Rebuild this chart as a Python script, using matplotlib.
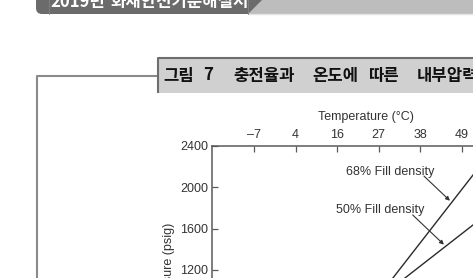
import matplotlib
matplotlib.use("Agg")
import matplotlib.pyplot as plt
from matplotlib.patches import Rectangle, Polygon, FancyBboxPatch

# data
temp_ticks_f = [20, 40, 60, 80, 100, 120]
temp_labels_c = ["\u20137", "4", "16", "27", "38", "49"]
pressure_ticks = [1200, 1600, 2000, 2400]

fill68_temp_f = [80, 130]
fill68_psi = [946, 2241]
fill50_temp_f = [80, 130]
fill50_psi = [924, 1709]

header_year = "2019년"
header_book = "화재안전기준해설서"
title_words = ["그림", "7", "충전율과", "온도에", "따른", "내부압력"]
title_x = [163, 203, 233, 312, 368, 417]

kr = ["Noto Sans CJK KR", "DejaVu Sans"]
latin = ["Liberation Sans", "DejaVu Sans"]
fs = 9

W, H = 473, 278
fig = plt.figure(figsize=(W / 100, H / 100), dpi=100)

# page decorations in pixel coords
bg = fig.add_axes([0, 0, 1, 1])
bg.set_xlim(0, W)
bg.set_ylim(H, 0)
bg.axis("off")

# header bar
bg.add_patch(Rectangle((248, -1), 230, 14.5, color="#bdbdbd", lw=0))
bg.plot([248, W], [14.3, 14.3], color="#e4e4e4", lw=1)
bg.add_patch(FancyBboxPatch((36, -12), 212, 26, boxstyle="round,pad=0,rounding_size=6",
                            color="#6b6b6b", lw=0))
bg.add_patch(Polygon([(232, -1), (263, -1), (248, 14), (232, 14)], color="#6b6b6b", lw=0))
bg.plot([49, 49], [0, 14], color="#858585", lw=0.6)
bg.plot([248, 248], [0, 14], color="#858585", lw=0.6)
bg.text(50, 6.5, header_year, color="white", fontsize=12, fontweight="bold",
        family=kr, ha="left", va="baseline")
bg.text(110, 6.5, header_book, color="white", fontsize=12, fontweight="bold",
        family=kr, ha="left", va="baseline")

# frame around the figure
bg.plot([37, 37, 158], [H + 2, 76, 76], color="#8a8a8a", lw=1.5, solid_capstyle="butt")

# title box
bg.add_patch(Rectangle((158, 57), 320, 36, facecolor="#d0d0d0", edgecolor="none"))
bg.plot([158, 158, W + 2], [93, 57.5, 57.5], color="#6e6e6e", lw=1.5, solid_capstyle="butt")
for word, x in zip(title_words, title_x):
    bg.text(x, 75.5, word, fontsize=12, fontweight="bold", family=kr,
            ha="left", va="center", color="#111111")

# chart axes, placed so the visible part lines up
left_px, top_px = 212.4, 146
px_per_20f = 41.6
px_per_400psi = 41.3
xmin, xmax = 0, 140
ymin, ymax = 800, 2400
w_px = (xmax - xmin) / 20 * px_per_20f
h_px = (ymax - ymin) / 400 * px_per_400psi
ax = fig.add_axes([left_px / W, (H - top_px - h_px) / H, w_px / W, h_px / H])
ax.set_xlim(xmin, xmax)
ax.set_ylim(ymin, ymax)
ax.patch.set_alpha(0)

for s in ["bottom", "right"]:
    ax.spines[s].set_visible(False)
for s in ["top", "left"]:
    ax.spines[s].set_color("#5a5a5a")
    ax.spines[s].set_linewidth(1.1)

ax.xaxis.tick_top()
ax.set_xticks(temp_ticks_f)
ax.set_xticklabels(temp_labels_c)
ax.set_yticks(pressure_ticks)
ax.tick_params(direction="in", length=4.3, width=0.9, color="#5a5a5a",
               labelsize=fs, labelcolor="#333333")
ax.tick_params(axis="x", pad=3.5)
ax.tick_params(axis="y", pad=3)
for lab in ax.get_xticklabels() + ax.get_yticklabels():
    lab.set_family(latin)

ax.plot(fill68_temp_f, fill68_psi, color="#2a2a2a", lw=1.0)
ax.plot(fill50_temp_f, fill50_psi, color="#2a2a2a", lw=1.0)

ax.text(85.7, 2151, "68% Fill density", fontsize=fs, family=latin, color="#333333",
        ha="center", va="center")
ax.annotate("", xy=(114.2, 1870), xytext=(101.7, 2109),
            arrowprops=dict(arrowstyle="-|>", color="#333333", lw=0.8,
                            mutation_scale=6, shrinkA=0, shrinkB=0))
ax.text(80.6, 1780, "50% Fill density", fontsize=fs, family=latin, color="#333333",
        ha="center", va="center")
ax.annotate("", xy=(111.3, 1445), xytext=(96.3, 1732),
            arrowprops=dict(arrowstyle="-|>", color="#333333", lw=0.8,
                            mutation_scale=6, shrinkA=0, shrinkB=0))

bg.text(366, 117, "Temperature (\u00b0C)", fontsize=fs, family=latin, color="#333333",
        ha="center", va="center")
bg.text(169, 223, "Pressure (psig)", fontsize=fs, family=latin, color="#333333",
        rotation=90, ha="center", va="top")

fig.savefig("out.png", dpi=100)
